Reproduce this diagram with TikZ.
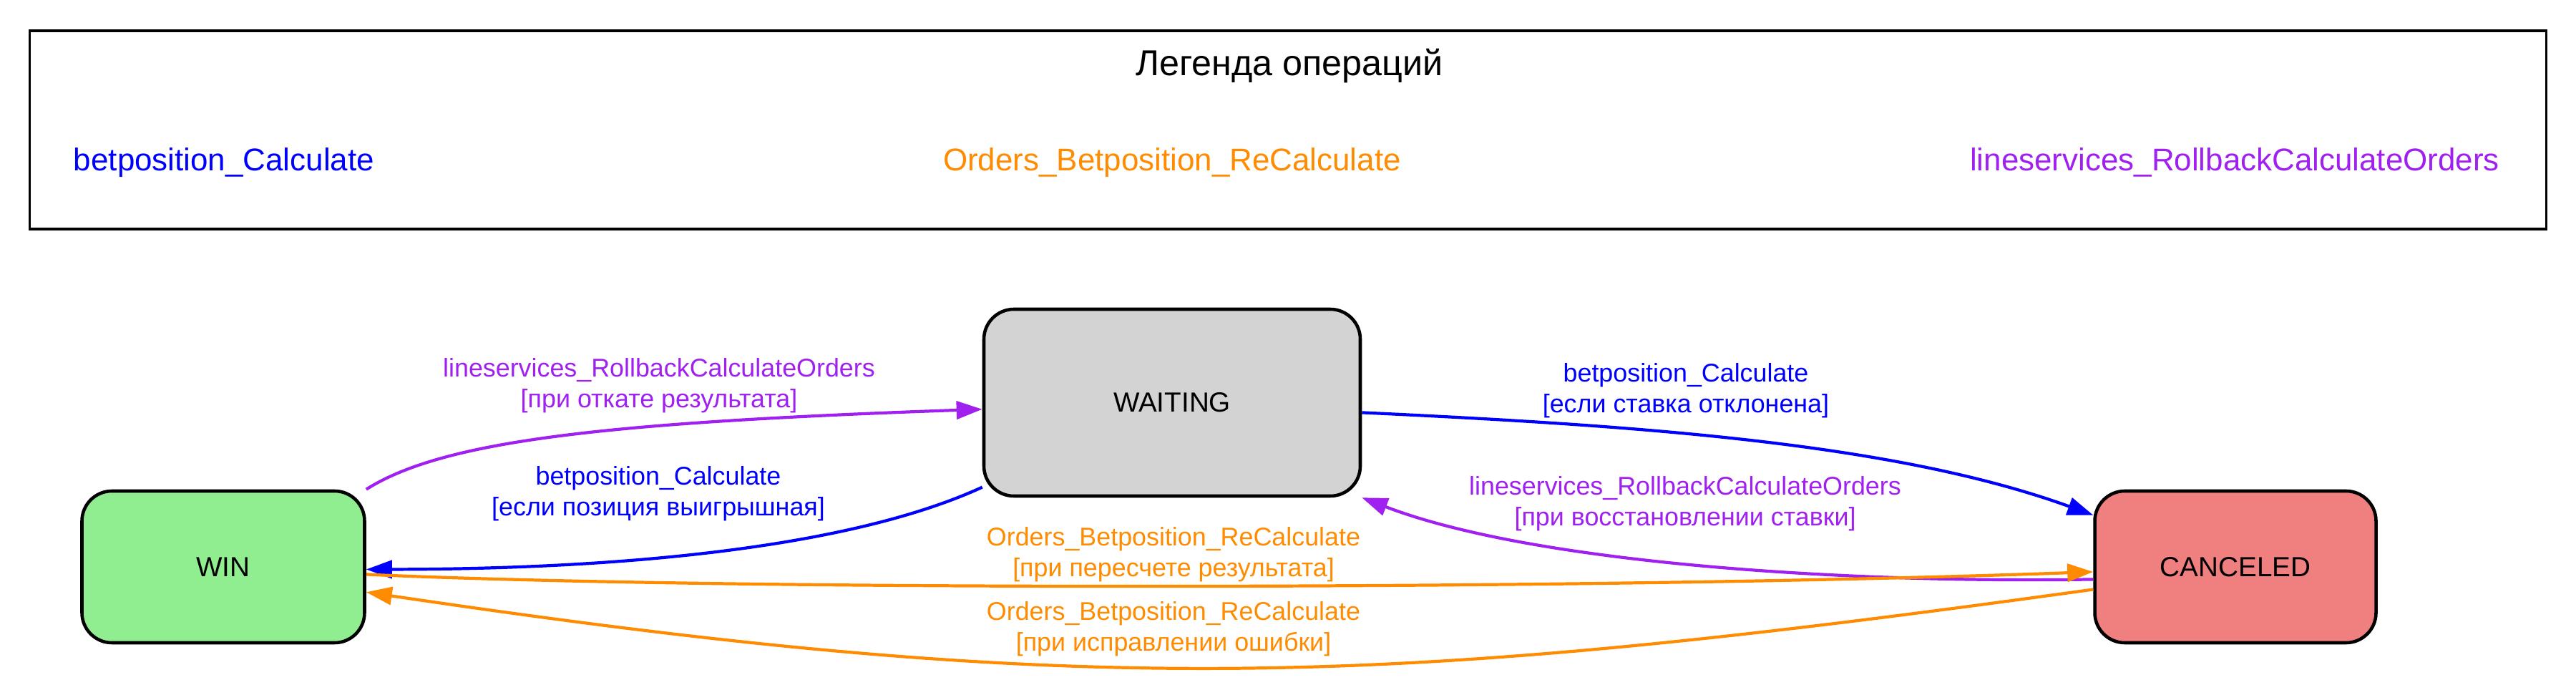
\documentclass[tikz,border=0pt]{standalone}
\usepackage{fontspec}
\setmainfont{Liberation Sans}
\usetikzlibrary{arrows.meta,positioning}

\definecolor{lgreen}{HTML}{90EE90}
\definecolor{lcoral}{HTML}{F08080}
\definecolor{lgrey}{HTML}{D3D3D3}
\definecolor{dorange}{HTML}{FF8C00}
\definecolor{gvpurple}{HTML}{A020F0}

\tikzset{
  statebox/.style={draw,line width=1.3pt,rounded corners=0.42cm,inner sep=0pt,
    font=\fontsize{11}{13}\selectfont},
  elabel/.style={align=center,font=\fontsize{10.2}{12.3}\selectfont},
  legitem/.style={font=\fontsize{12.5}{15}\selectfont},
}

\begin{document}
\begin{tikzpicture}[->,>={Triangle[length=0.36cm,width=0.25cm]},line width=1.2pt]
\useasboundingbox (0,0) rectangle (36,9.5);

% legend
\node[draw,line width=0.9pt,minimum width=35.17cm,minimum height=2.77cm,inner sep=0pt](legend) at (18.0,7.685) {};
\node[font=\fontsize{14.3}{17}\selectfont](ltitle) at (18.02,8.58) {Легенда операций};
\node[legitem,blue](leg1) at (3.13,7.23) {betposition\_Calculate};
\node[legitem,dorange](leg2) at (16.38,7.23) {Orders\_Betposition\_ReCalculate};
\node[legitem,gvpurple](leg3) at (31.23,7.23) {lineservices\_RollbackCalculateOrders};

% states
\node[statebox,fill=lgrey,minimum width=5.26cm,minimum height=2.61cm](wait) at (16.38,3.875) {WAITING};
\node[statebox,fill=lgreen,minimum width=3.95cm,minimum height=2.12cm](win) at (3.12,1.58) {WIN};
\node[statebox,fill=lcoral,minimum width=3.93cm,minimum height=2.12cm](canc) at (31.24,1.58) {CANCELED};

\draw[gvpurple](win.north east) .. controls (6.2,3.35) and (8.5,3.6) .. (wait.182);
\draw[blue](wait.204) .. controls (12.0,1.9) and (9.0,1.55) .. (win.359);
\draw[blue](wait.357) .. controls (23,3.55) and (26.5,3.3) .. (canc.160);
\draw[gvpurple](canc.185) .. controls (26,1.35) and (21.5,1.6) .. (wait.south east);
\draw[dorange](win.357) .. controls (10,1.25) and (22,1.25) .. (canc.182);
\draw[dorange](canc.189) .. controls (19.27,-0.12) and (15.13,-0.26) .. (win.350);

\node[elabel,gvpurple] at (9.21,4.11) {lineservices\_RollbackCalculateOrders\\{[при откате результата]}};
\node[elabel,blue] at (9.2,2.6) {betposition\_Calculate\\{[если позиция выигрышная]}};
\node[elabel,blue] at (23.56,4.04) {betposition\_Calculate\\{[если ставка отклонена]}};
\node[elabel,gvpurple] at (23.55,2.46) {lineservices\_RollbackCalculateOrders\\{[при восстановлении ставки]}};
\node[elabel,dorange] at (16.4,1.755) {Orders\_Betposition\_ReCalculate\\{[при пересчете результата]}};
\node[elabel,dorange] at (16.4,0.71) {Orders\_Betposition\_ReCalculate\\{[при исправлении ошибки]}};
\end{tikzpicture}
\end{document}
